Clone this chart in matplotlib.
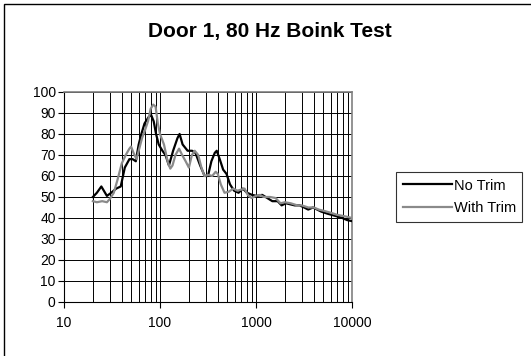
import numpy as np
import matplotlib.pyplot as plt
from matplotlib.patches import Rectangle
from matplotlib.ticker import LogLocator, NullFormatter, FixedLocator

plt.rcParams['font.family'] = ['Liberation Sans', 'DejaVu Sans']

# No Trim (black)
f_no = [20, 22, 24.5, 28, 31, 35, 39, 43, 48, 52, 56, 60, 64, 69, 76, 81, 86, 91, 97,
        106, 114, 124, 137, 152, 160, 172, 194, 216, 234, 262, 292, 316, 343, 372, 390,
        419, 455, 493, 536, 591, 658, 730, 806, 910, 1020, 1160, 1310, 1480, 1680, 1850,
        2050, 2530, 2850, 3170, 3500, 3920, 4800, 5600, 6700, 7900, 8900, 10000]
db_no = [50, 52, 55, 50.5, 52, 54, 55, 64, 68, 68, 67, 75, 80, 85, 88, 89, 86, 80, 75,
         72, 70, 65, 72, 78, 80, 75, 72, 72, 71, 65, 60, 60, 67, 71, 72,
         68, 63, 61, 56, 53, 52, 54, 52, 51, 50.5, 51, 49.5, 48, 48, 46,
         47, 46, 46, 45, 44, 45, 43, 42, 41, 40, 39, 38.5]

# With Trim (gray)
f_tr = [20, 22, 25, 28, 30, 33, 36, 40, 44, 48, 50, 53, 57, 60, 65, 70, 75, 80, 85, 90,
        95, 100, 110, 120, 128, 135, 145, 158, 170, 185, 200, 215, 230, 250, 270, 290,
        320, 350, 380, 400, 430, 470, 520, 580, 640, 700, 760, 820, 900, 1000, 1100,
        1200, 1400, 1600, 1800, 2000, 2300, 2700, 3000, 3500, 4000, 4500, 5000, 6000,
        7000, 8000, 9000, 10000]
db_tr = [48, 47.5, 48, 47.5, 49, 52, 58, 66, 70, 73, 74, 71, 68, 72, 78, 82, 86, 92, 94, 93,
         85, 80, 75, 67, 63.5, 65, 70, 73, 70, 67, 64, 70, 72, 70, 64, 60,
         60.5, 60, 62, 61, 56, 52, 52.5, 54, 53, 53.5, 54, 51, 49.5, 50.5, 51,
         50, 50, 49.5, 47, 47.5, 47, 46, 46, 45, 45, 44, 43.5, 42.5,
         41.5, 41, 40.5, 40]

fig = plt.figure(figsize=(5.31, 3.56), dpi=100)
fig.patches.append(Rectangle((4 / 531, -0.05), 1.2, 1 - 4 / 356 + 0.05,
                             transform=fig.transFigure, fill=False,
                             edgecolor='black', linewidth=1.0))

ax = fig.add_axes([0.1205, 0.1517, 0.5424, 0.590])
ax.plot(f_no, db_no, color='black', lw=1.6, label='No Trim', zorder=3,
        solid_joinstyle='round')
ax.plot(f_tr, db_tr, color='#8a8a8a', lw=1.6, label='With Trim', zorder=3,
        solid_joinstyle='round')

ax.set_xscale('log')
ax.set_xlim(10, 10000)
ax.set_ylim(0, 100)
ax.xaxis.set_major_locator(FixedLocator([10, 100, 1000, 10000]))
ax.set_xticklabels(['10', '100', '1000', '10000'])
ax.xaxis.set_minor_locator(LogLocator(base=10, subs=np.arange(2, 10)))
ax.xaxis.set_minor_formatter(NullFormatter())
ax.set_yticks(np.arange(0, 101, 10))
ax.tick_params(axis='x', which='minor', length=0)
ax.tick_params(axis='both', which='major', direction='out', length=4, width=0.8,
               labelsize=10, pad=6)
ax.tick_params(axis='y', pad=2)

ax.grid(True, which='both', axis='x', color='black', lw=0.7)
ax.grid(True, which='major', axis='y', color='black', lw=0.7)
ax.set_axisbelow(True)

for s in ['top', 'right']:
    ax.spines[s].set_color('#808080')
    ax.spines[s].set_linewidth(1.2)
for s in ['left', 'bottom']:
    ax.spines[s].set_color('black')
    ax.spines[s].set_linewidth(0.8)

fig.text(0.508, 1 - 32 / 356, 'Door 1, 80 Hz Boink Test', ha='center', va='center',
         fontsize=15, fontweight='bold')

leg = fig.legend(loc='upper left', bbox_to_anchor=(396 / 531, 1 - 172 / 356),
                 frameon=True, fancybox=False, edgecolor='black', fontsize=10.5,
                 handlelength=3.4, handletextpad=0.1, borderpad=0.45,
                 labelspacing=0.6, borderaxespad=0)
leg.get_frame().set_linewidth(0.8)

fig.savefig('out.png', dpi=100)
